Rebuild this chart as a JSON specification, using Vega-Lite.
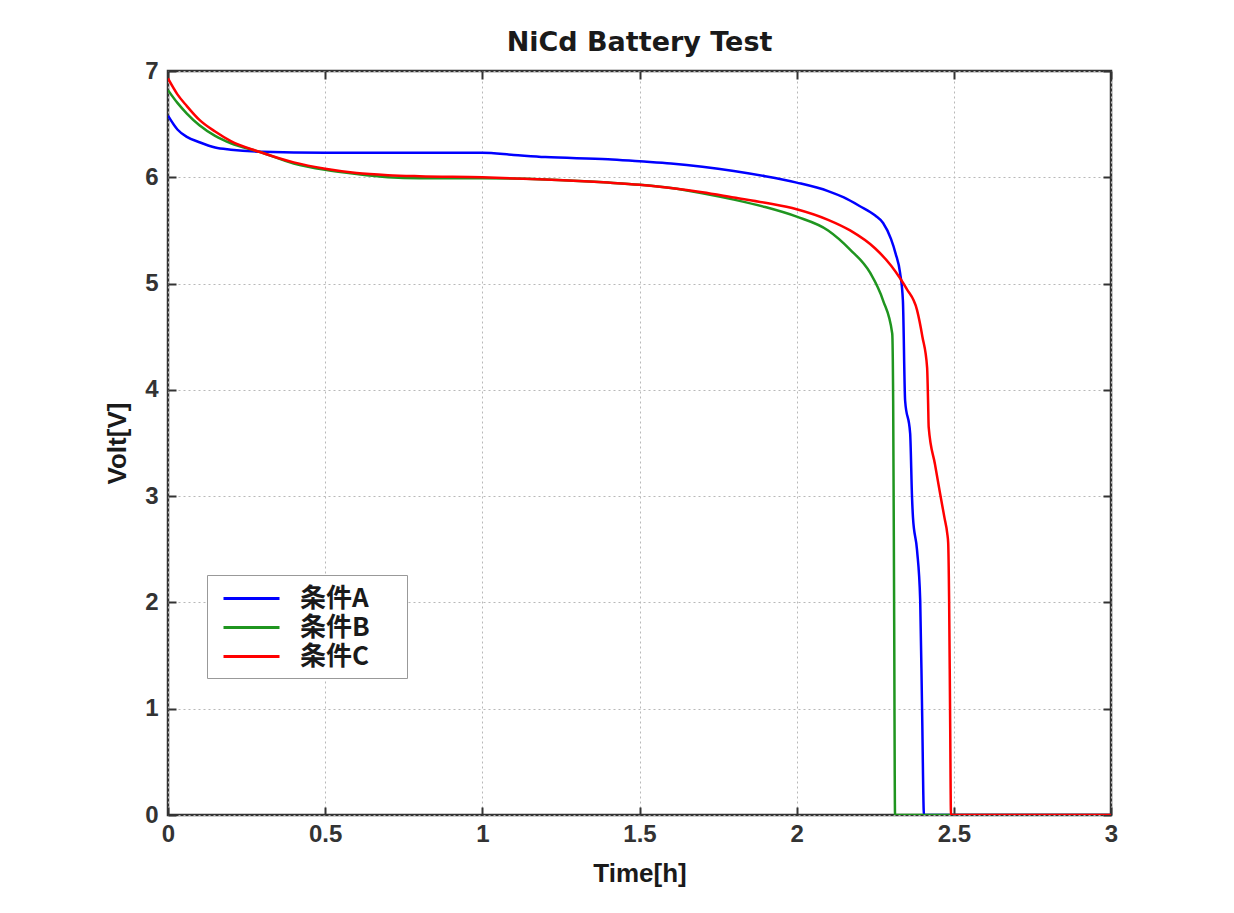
{
  "$schema": "https://vega.github.io/schema/vega-lite/v6.json",
  "width": 943,
  "height": 744,
  "autosize": {"type": "none"},
  "padding": {"left": 168, "top": 71, "right": 123, "bottom": 98},
  "background": "white",
  "title": {"text": "NiCd Battery Test", "font": "DejaVu Sans", "fontSize": 27, "fontWeight": "bold", "color": "#1a1a1a", "offset": 2, "anchor": "middle"},
  "config": {
    "view": {"stroke": "#333333", "strokeWidth": 2.5},
    "axis": {
      "labelFont": "Liberation Sans", "labelFontSize": 24, "labelFontWeight": "bold", "labelColor": "#333333",
      "titleFont": "Liberation Sans", "titleFontSize": 26, "titleFontWeight": "bold", "titleColor": "#1a1a1a",
      "domain": false,
      "tickColor": "#333333", "tickWidth": 2, "tickSize": -8,
      "gridColor": "#b8b8b8", "gridDash": [2, 3], "gridWidth": 1
    }
  },
  "data": {"values": [
    {"t": 0, "v": 6.58, "s": "条件A"},
    {"t": 0.03, "v": 6.45, "s": "条件A"},
    {"t": 0.06, "v": 6.38, "s": "条件A"},
    {"t": 0.1, "v": 6.33, "s": "条件A"},
    {"t": 0.15, "v": 6.28, "s": "条件A"},
    {"t": 0.2, "v": 6.26, "s": "条件A"},
    {"t": 0.3, "v": 6.24, "s": "条件A"},
    {"t": 0.5, "v": 6.23, "s": "条件A"},
    {"t": 0.8, "v": 6.23, "s": "条件A"},
    {"t": 1.0, "v": 6.23, "s": "条件A"},
    {"t": 1.1, "v": 6.21, "s": "条件A"},
    {"t": 1.2, "v": 6.19, "s": "条件A"},
    {"t": 1.4, "v": 6.17, "s": "条件A"},
    {"t": 1.5, "v": 6.15, "s": "条件A"},
    {"t": 1.6, "v": 6.13, "s": "条件A"},
    {"t": 1.7, "v": 6.1, "s": "条件A"},
    {"t": 1.8, "v": 6.06, "s": "条件A"},
    {"t": 1.9, "v": 6.01, "s": "条件A"},
    {"t": 2.0, "v": 5.95, "s": "条件A"},
    {"t": 2.1, "v": 5.87, "s": "条件A"},
    {"t": 2.15, "v": 5.81, "s": "条件A"},
    {"t": 2.2, "v": 5.73, "s": "条件A"},
    {"t": 2.25, "v": 5.64, "s": "条件A"},
    {"t": 2.275, "v": 5.57, "s": "条件A"},
    {"t": 2.3, "v": 5.42, "s": "条件A"},
    {"t": 2.315, "v": 5.28, "s": "条件A"},
    {"t": 2.329, "v": 5.1, "s": "条件A"},
    {"t": 2.338, "v": 4.84, "s": "条件A"},
    {"t": 2.345, "v": 3.9, "s": "条件A"},
    {"t": 2.361, "v": 3.59, "s": "条件A"},
    {"t": 2.367, "v": 2.99, "s": "条件A"},
    {"t": 2.37, "v": 2.8, "s": "条件A"},
    {"t": 2.383, "v": 2.49, "s": "条件A"},
    {"t": 2.393, "v": 2.02, "s": "条件A"},
    {"t": 2.399, "v": 0.99, "s": "条件A"},
    {"t": 2.405, "v": 0, "s": "条件A"},
    {"t": 3.0, "v": 0, "s": "条件A"},
    {"t": 0, "v": 6.82, "s": "条件B"},
    {"t": 0.03, "v": 6.7, "s": "条件B"},
    {"t": 0.06, "v": 6.6, "s": "条件B"},
    {"t": 0.1, "v": 6.49, "s": "条件B"},
    {"t": 0.15, "v": 6.39, "s": "条件B"},
    {"t": 0.2, "v": 6.32, "s": "条件B"},
    {"t": 0.29, "v": 6.24, "s": "条件B"},
    {"t": 0.4, "v": 6.13, "s": "条件B"},
    {"t": 0.5, "v": 6.07, "s": "条件B"},
    {"t": 0.6, "v": 6.03, "s": "条件B"},
    {"t": 0.7, "v": 6.0, "s": "条件B"},
    {"t": 0.8, "v": 5.99, "s": "条件B"},
    {"t": 1.0, "v": 5.99, "s": "条件B"},
    {"t": 1.2, "v": 5.98, "s": "条件B"},
    {"t": 1.4, "v": 5.95, "s": "条件B"},
    {"t": 1.5, "v": 5.93, "s": "条件B"},
    {"t": 1.6, "v": 5.9, "s": "条件B"},
    {"t": 1.7, "v": 5.85, "s": "条件B"},
    {"t": 1.8, "v": 5.79, "s": "条件B"},
    {"t": 1.9, "v": 5.72, "s": "条件B"},
    {"t": 2.0, "v": 5.63, "s": "条件B"},
    {"t": 2.1, "v": 5.5, "s": "条件B"},
    {"t": 2.17, "v": 5.32, "s": "条件B"},
    {"t": 2.234, "v": 5.1, "s": "条件B"},
    {"t": 2.275, "v": 4.84, "s": "条件B"},
    {"t": 2.304, "v": 4.53, "s": "条件B"},
    {"t": 2.307, "v": 3.9, "s": "条件B"},
    {"t": 2.31, "v": 2.0, "s": "条件B"},
    {"t": 2.313, "v": 0, "s": "条件B"},
    {"t": 3.0, "v": 0, "s": "条件B"},
    {"t": 0, "v": 6.93, "s": "条件C"},
    {"t": 0.03, "v": 6.78, "s": "条件C"},
    {"t": 0.06, "v": 6.67, "s": "条件C"},
    {"t": 0.1, "v": 6.54, "s": "条件C"},
    {"t": 0.15, "v": 6.43, "s": "条件C"},
    {"t": 0.2, "v": 6.34, "s": "条件C"},
    {"t": 0.29, "v": 6.24, "s": "条件C"},
    {"t": 0.4, "v": 6.14, "s": "条件C"},
    {"t": 0.5, "v": 6.08, "s": "条件C"},
    {"t": 0.6, "v": 6.04, "s": "条件C"},
    {"t": 0.7, "v": 6.02, "s": "条件C"},
    {"t": 0.8, "v": 6.01, "s": "条件C"},
    {"t": 1.0, "v": 6.0, "s": "条件C"},
    {"t": 1.2, "v": 5.98, "s": "条件C"},
    {"t": 1.4, "v": 5.95, "s": "条件C"},
    {"t": 1.5, "v": 5.93, "s": "条件C"},
    {"t": 1.6, "v": 5.9, "s": "条件C"},
    {"t": 1.7, "v": 5.86, "s": "条件C"},
    {"t": 1.8, "v": 5.81, "s": "条件C"},
    {"t": 1.9, "v": 5.76, "s": "条件C"},
    {"t": 2.0, "v": 5.7, "s": "条件C"},
    {"t": 2.1, "v": 5.6, "s": "条件C"},
    {"t": 2.17, "v": 5.5, "s": "条件C"},
    {"t": 2.25, "v": 5.33, "s": "条件C"},
    {"t": 2.3, "v": 5.17, "s": "条件C"},
    {"t": 2.329, "v": 5.05, "s": "条件C"},
    {"t": 2.35, "v": 4.95, "s": "条件C"},
    {"t": 2.383, "v": 4.75, "s": "条件C"},
    {"t": 2.4, "v": 4.5, "s": "条件C"},
    {"t": 2.415, "v": 4.21, "s": "条件C"},
    {"t": 2.418, "v": 3.9, "s": "条件C"},
    {"t": 2.42, "v": 3.65, "s": "条件C"},
    {"t": 2.44, "v": 3.3, "s": "条件C"},
    {"t": 2.456, "v": 3.03, "s": "条件C"},
    {"t": 2.47, "v": 2.8, "s": "条件C"},
    {"t": 2.479, "v": 2.65, "s": "条件C"},
    {"t": 2.482, "v": 2.56, "s": "条件C"},
    {"t": 2.485, "v": 2.02, "s": "条件C"},
    {"t": 2.488, "v": 1.0, "s": "条件C"},
    {"t": 2.491, "v": 0, "s": "条件C"},
    {"t": 3.0, "v": 0, "s": "条件C"}
  ]},
  "layer": [
    {
      "mark": {"type": "line", "strokeWidth": 2.5, "clip": true, "interpolate": "monotone"},
      "encoding": {
        "x": {"field": "t", "type": "quantitative", "scale": {"domain": [0, 3], "nice": false}, "axis": {"values": [0, 0.5, 1, 1.5, 2, 2.5, 3], "format": "~g", "title": "Time[h]", "labelPadding": 15, "titlePadding": 14, "labelFlush": false}},
        "y": {"field": "v", "type": "quantitative", "scale": {"domain": [0, 7], "nice": false}, "axis": {"values": [0, 1, 2, 3, 4, 5, 6, 7], "format": "~g", "title": "Volt[V]", "labelPadding": 18, "titlePadding": 14, "labelFlush": false}},
        "color": {"field": "s", "type": "nominal", "scale": {"domain": ["条件A", "条件B", "条件C"], "range": ["#0000ff", "#1f951f", "#ff0000"]},
          "legend": {"title": null, "orient": "none", "legendX": 39, "legendY": 504, "symbolType": "M-0.5,0H3.5M11.6,0H11.6", "symbolSize": 784, "symbolStrokeWidth": 3, "symbolFillColor": "transparent", "labelFont": "Noto Sans CJK JP", "labelFontSize": 26, "labelFontWeight": "bold", "labelColor": "#1a1a1a", "labelOffset": 54, "rowPadding": 0, "padding": 8, "strokeColor": "#999999", "fillColor": "white"}},
        "order": {"field": "t", "type": "quantitative"}
      }
    },
    {
      "mark": {"type": "line", "opacity": 0},
      "encoding": {
        "x": {"field": "t", "type": "quantitative", "scale": {"domain": [0, 3], "nice": false}, "axis": {"orient": "top", "values": [0, 0.5, 1, 1.5, 2, 2.5, 3], "labels": false, "grid": false, "title": null}},
        "y": {"field": "v", "type": "quantitative", "scale": {"domain": [0, 7], "nice": false}, "axis": {"orient": "right", "values": [0, 1, 2, 3, 4, 5, 6, 7], "labels": false, "grid": false, "title": null}},
        "detail": {"field": "s", "type": "nominal"}
      }
    }
  ],
  "resolve": {"axis": {"x": "independent", "y": "independent"}}
}
